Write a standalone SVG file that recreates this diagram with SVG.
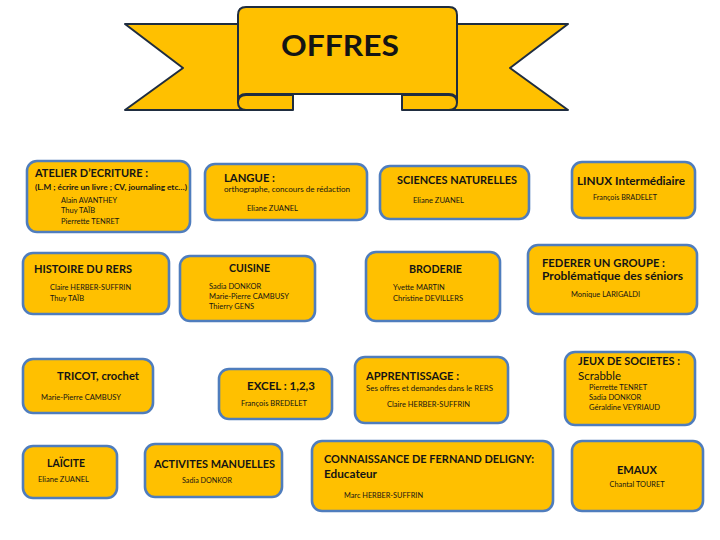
<svg xmlns="http://www.w3.org/2000/svg" width="720" height="540" viewBox="0 0 720 540">
<style>
.box{fill:#FFC000;stroke:#4F7DBD;stroke-width:2.6}
.bn{fill:#FFC000;stroke:#1F2D40;stroke-width:2;stroke-linejoin:round}
text{font-family:Lato,"Open Sans","Liberation Sans",sans-serif;fill:#141414}
.t{font-weight:bold;font-size:11px}
.s{font-weight:bold;font-size:8px}
.n{font-size:7.5px}
.m{font-size:8px}
</style>
<rect width="720" height="540" fill="#fff"/>
<g id="banner">
<polygon class="bn" points="240,24 125,24 183,68 125,110 290,110 290,94 240,94"/>
<polygon class="bn" points="455,24 568,24 510,68 568,110 405,110 405,94 455,94"/>
<path class="bn" d="M246,95 L293,95 L293,110 L246,110 Q238,110 238,102.5 Q238,95 246,95 Z"/>
<path class="bn" d="M449,95 L402,95 L402,110 L449,110 Q457,110 457,102.5 Q457,95 449,95 Z"/>
<path class="bn" d="M238,15 Q238,7 246,7 L449,7 Q457,7 457,15 L457,102 Q457,94 449,94 L246,94 Q238,94 238,102 Z"/>
<text x="340" y="56" text-anchor="middle" font-size="29" font-weight="bold" textLength="118" lengthAdjust="spacingAndGlyphs">OFFRES</text>
</g>
<g id="atelier">
<rect class="box" x="27" y="161" width="163" height="71" rx="10"/>
<text class="t" x="35" y="177" textLength="113" lengthAdjust="spacingAndGlyphs">ATELIER D’ECRITURE :</text>
<text class="s" x="35" y="190" textLength="152" lengthAdjust="spacingAndGlyphs">(L.M ; écrire un livre ; CV, journaling etc…)</text>
<text class="n" x="61" y="203" textLength="56" lengthAdjust="spacingAndGlyphs">Alain AVANTHEY</text>
<text class="n" x="61" y="213">Thuy TAÏB</text>
<text class="n" x="61" y="224">Pierrette TENRET</text>
</g>
<g id="langue">
<rect class="box" x="205" y="164" width="162" height="56" rx="10"/>
<text class="t" x="224" y="182" textLength="51" lengthAdjust="spacingAndGlyphs">LANGUE :</text>
<text class="m" x="224" y="192" textLength="126" lengthAdjust="spacingAndGlyphs">orthographe, concours de rédaction</text>
<text class="n" x="247" y="211" textLength="51" lengthAdjust="spacingAndGlyphs">Eliane ZUANEL</text>
</g>
<g id="sciences">
<rect class="box" x="380" y="166" width="149" height="53" rx="10"/>
<text class="t" x="397" y="184" textLength="120" lengthAdjust="spacingAndGlyphs">SCIENCES NATURELLES</text>
<text class="n" x="413" y="203" textLength="51" lengthAdjust="spacingAndGlyphs">Eliane ZUANEL</text>
</g>
<g id="linux">
<rect class="box" x="572" y="162" width="123" height="56" rx="10"/>
<text class="t" x="577" y="185" textLength="108" lengthAdjust="spacingAndGlyphs">LINUX Intermédiaire</text>
<text class="n" x="593" y="200" textLength="64" lengthAdjust="spacingAndGlyphs">François BRADELET</text>
</g>
<g id="histoire">
<rect class="box" x="23" y="253" width="146" height="61" rx="10"/>
<text class="t" x="34" y="273" textLength="98" lengthAdjust="spacingAndGlyphs">HISTOIRE DU RERS</text>
<text class="n" x="50" y="290" textLength="81" lengthAdjust="spacingAndGlyphs">Claire HERBER-SUFFRIN</text>
<text class="n" x="50" y="301">Thuy TAÏB</text>
</g>
<g id="cuisine">
<rect class="box" x="180" y="256" width="135" height="65" rx="10"/>
<text class="t" x="229" y="272" textLength="41" lengthAdjust="spacingAndGlyphs">CUISINE</text>
<text class="n" x="209" y="289">Sadia DONKOR</text>
<text class="n" x="209" y="299" textLength="80" lengthAdjust="spacingAndGlyphs">Marie-Pierre CAMBUSY</text>
<text class="n" x="209" y="309">Thierry GENS</text>
</g>
<g id="broderie">
<rect class="box" x="366" y="252" width="134" height="69" rx="10"/>
<text class="t" x="409" y="273" textLength="53" lengthAdjust="spacingAndGlyphs">BRODERIE</text>
<text class="n" x="393" y="290">Yvette MARTIN</text>
<text class="n" x="393" y="301" textLength="70" lengthAdjust="spacingAndGlyphs">Christine DEVILLERS</text>
</g>
<g id="federer">
<rect class="box" x="528" y="245" width="169" height="69" rx="10"/>
<text class="t" x="542" y="267" textLength="123" lengthAdjust="spacingAndGlyphs">FEDERER UN GROUPE :</text>
<text class="t" x="542" y="280" textLength="141" lengthAdjust="spacingAndGlyphs">Problématique des séniors</text>
<text class="n" x="571" y="297" textLength="69" lengthAdjust="spacingAndGlyphs">Monique LARIGALDI</text>
</g>
<g id="tricot">
<rect class="box" x="23" y="359" width="130" height="54" rx="10"/>
<text class="t" x="57" y="380" textLength="82" lengthAdjust="spacingAndGlyphs">TRICOT, crochet</text>
<text class="n" x="41" y="400" textLength="80" lengthAdjust="spacingAndGlyphs">Marie-Pierre CAMBUSY</text>
</g>
<g id="excel">
<rect class="box" x="219" y="369" width="113" height="50" rx="10"/>
<text class="t" x="247" y="390" textLength="68" lengthAdjust="spacingAndGlyphs">EXCEL : 1,2,3</text>
<text class="n" x="241" y="406" textLength="66" lengthAdjust="spacingAndGlyphs">François BREDELET</text>
</g>
<g id="apprentissage">
<rect class="box" x="355" y="357" width="153" height="66" rx="10"/>
<text class="t" x="366" y="380" textLength="93" lengthAdjust="spacingAndGlyphs">APPRENTISSAGE :</text>
<text class="n" x="366" y="391" textLength="127" lengthAdjust="spacingAndGlyphs">Ses offres et demandes dans le RERS</text>
<text class="n" x="387" y="407" textLength="83" lengthAdjust="spacingAndGlyphs">Claire HERBER-SUFFRIN</text>
</g>
<g id="jeux">
<rect class="box" x="565" y="352" width="130" height="73" rx="10"/>
<text class="t" x="578" y="365" textLength="102" lengthAdjust="spacingAndGlyphs">JEUX DE SOCIETES :</text>
<text x="578" y="380" font-size="11" textLength="43" lengthAdjust="spacingAndGlyphs">Scrabble</text>
<text class="n" x="589" y="390">Pierrette TENRET</text>
<text class="n" x="589" y="400">Sadia DONKOR</text>
<text class="n" x="589" y="410" textLength="71" lengthAdjust="spacingAndGlyphs">Géraldine VEYRIAUD</text>
</g>
<g id="laicite">
<rect class="box" x="23" y="446" width="94" height="52" rx="10"/>
<text class="t" x="47" y="467" textLength="38" lengthAdjust="spacingAndGlyphs">LAÏCITE</text>
<text class="n" x="38" y="482" textLength="51" lengthAdjust="spacingAndGlyphs">Eliane ZUANEL</text>
</g>
<g id="activites">
<rect class="box" x="145" y="444" width="137" height="53" rx="10"/>
<text class="t" x="154" y="468" textLength="121" lengthAdjust="spacingAndGlyphs">ACTIVITES MANUELLES</text>
<text class="n" x="182" y="483" textLength="50" lengthAdjust="spacingAndGlyphs">Sadia DONKOR</text>
</g>
<g id="connaissance">
<rect class="box" x="312" y="441" width="241" height="70" rx="10"/>
<text class="t" x="324" y="463" textLength="210" lengthAdjust="spacingAndGlyphs">CONNAISSANCE DE FERNAND DELIGNY:</text>
<text class="t" x="324" y="478" textLength="53" lengthAdjust="spacingAndGlyphs">Educateur</text>
<text class="n" x="344" y="498" textLength="79" lengthAdjust="spacingAndGlyphs">Marc HERBER-SUFFRIN</text>
</g>
<g id="emaux">
<rect class="box" x="572" y="441" width="131" height="70" rx="10"/>
<text class="t" x="637" y="474" text-anchor="middle" textLength="40" lengthAdjust="spacingAndGlyphs">EMAUX</text>
<text class="n" x="637" y="487" text-anchor="middle" textLength="55" lengthAdjust="spacingAndGlyphs">Chantal TOURET</text>
</g>
<g id="connectors"/>
</svg>
